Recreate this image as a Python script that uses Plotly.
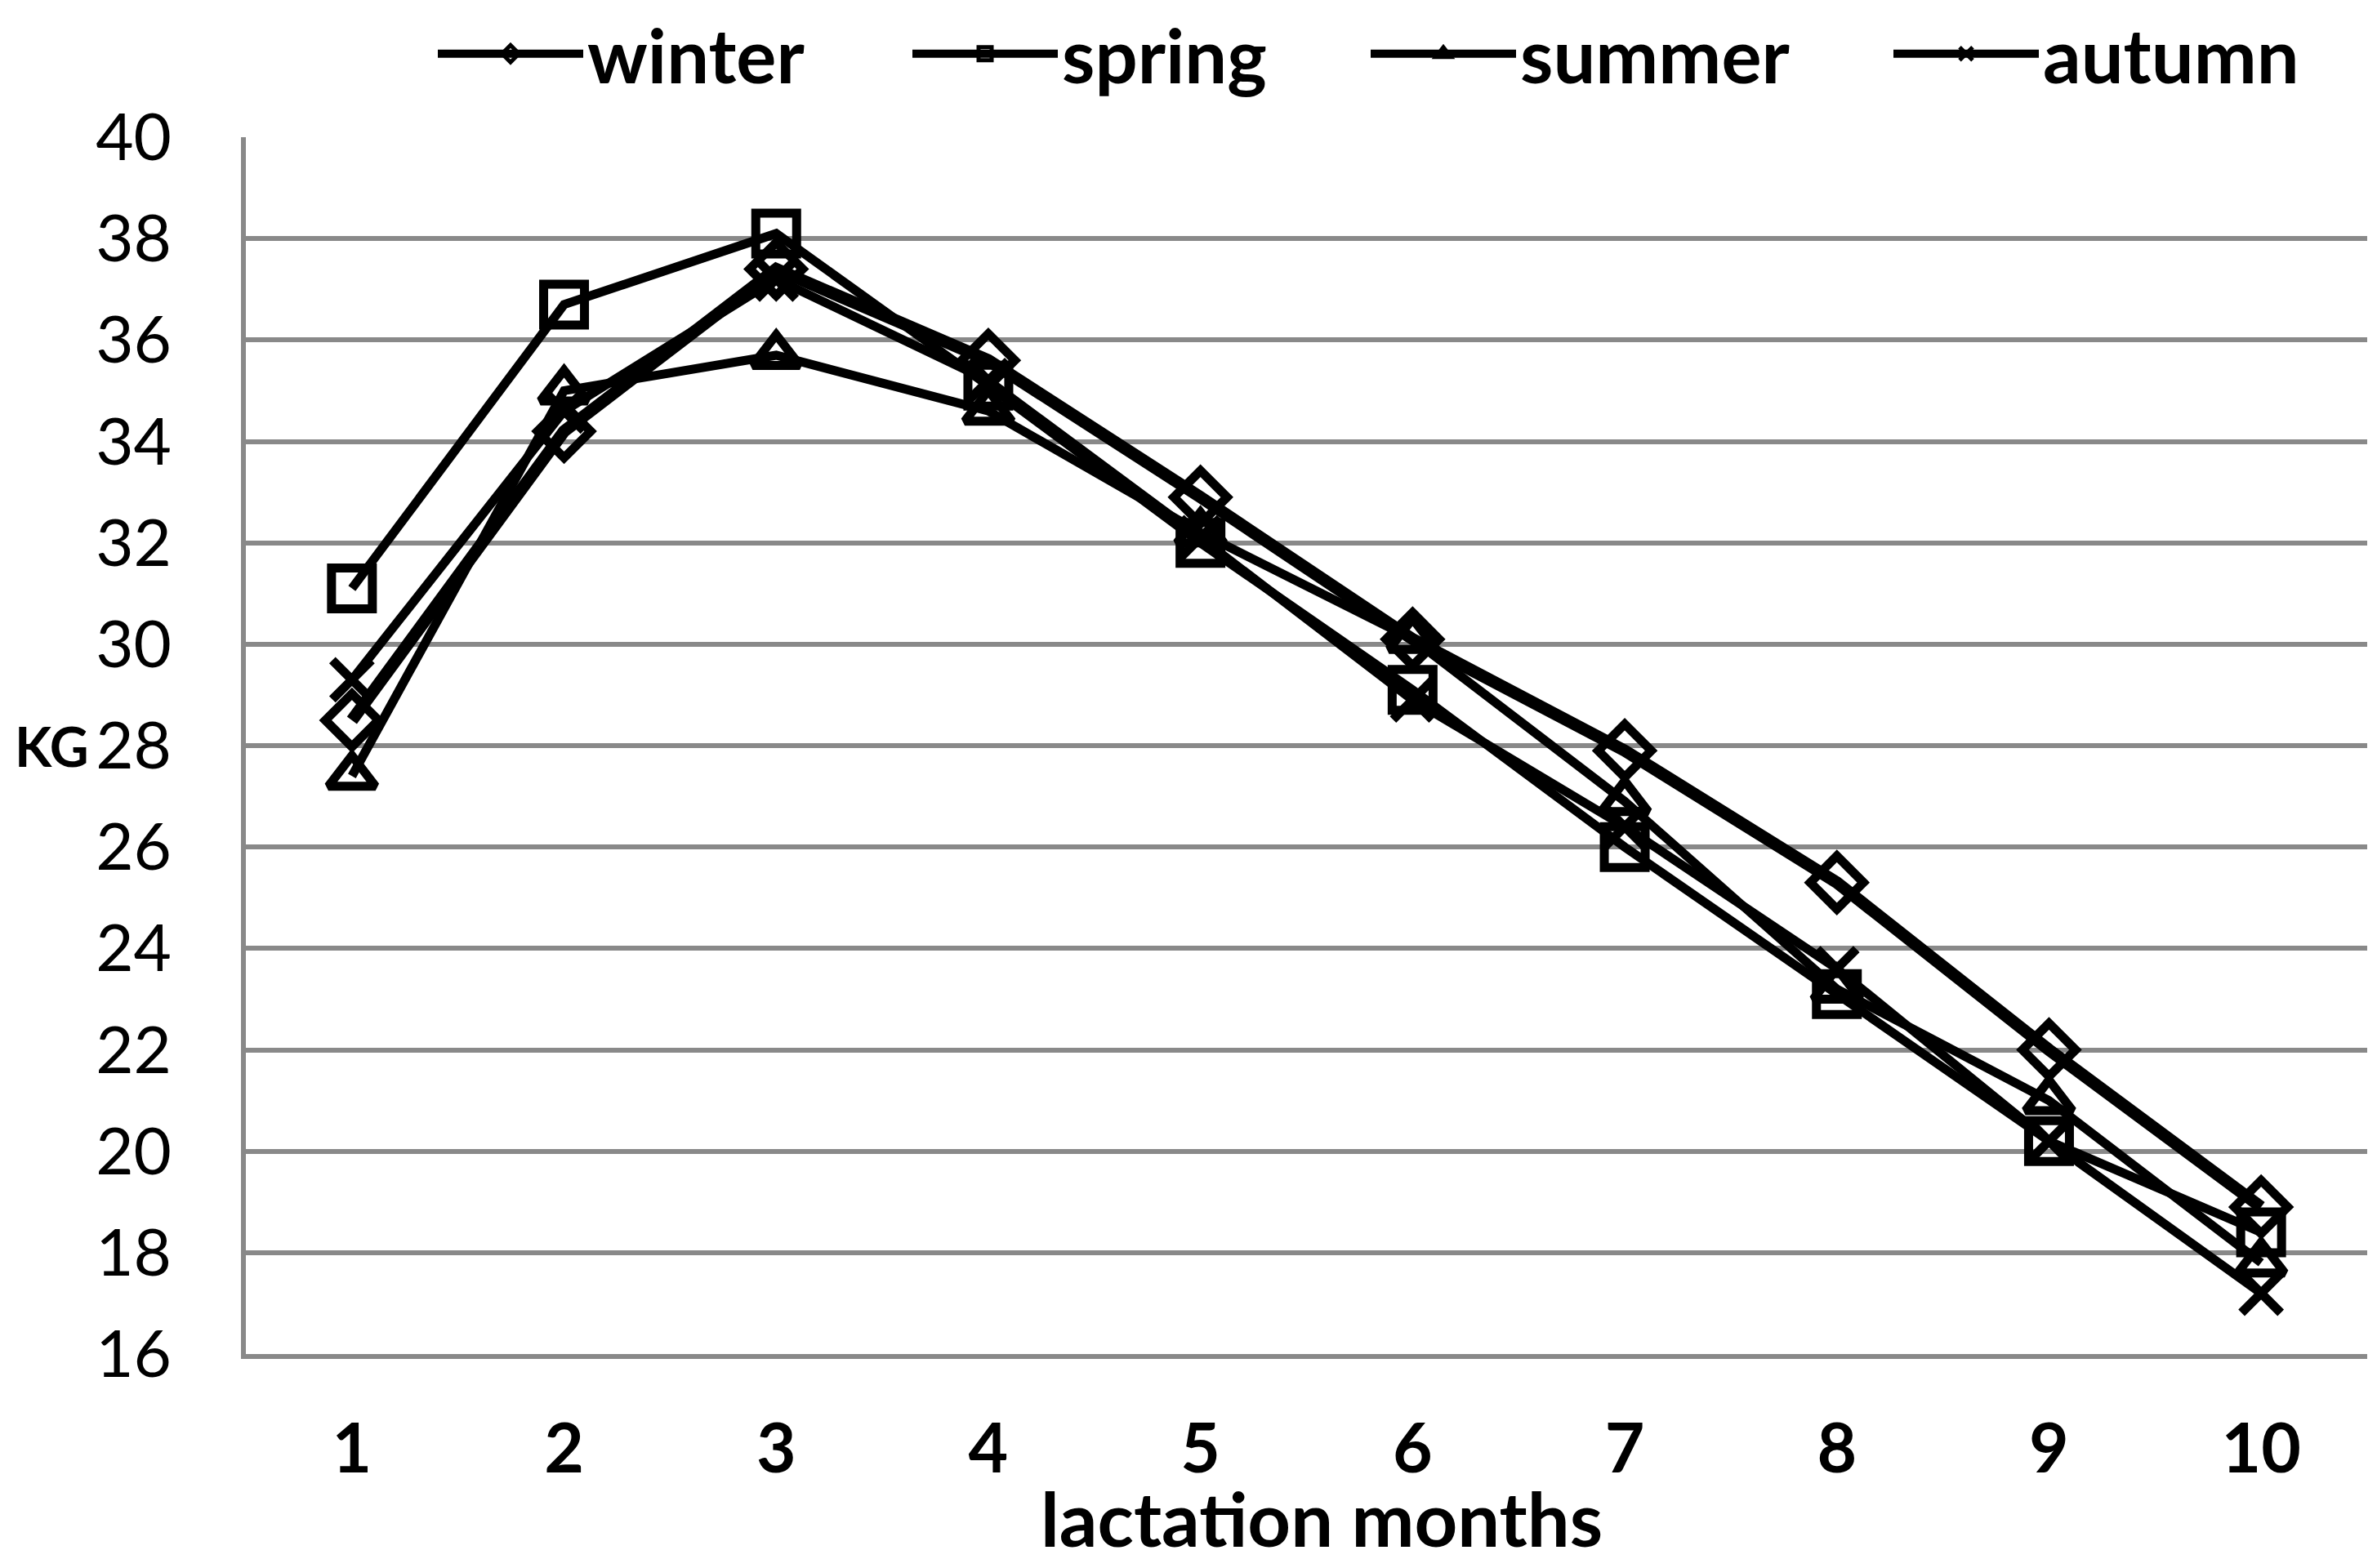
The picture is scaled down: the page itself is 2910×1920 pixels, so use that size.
import plotly.graph_objects as go

months = ["1", "2", "3", "4", "5", "6", "7", "8", "9", "10"]
winter = [28.5, 34.2, 37.4, 35.6, 32.9, 30.1, 27.9, 25.3, 22.0, 18.9]
spring = [31.1, 36.7, 38.1, 35.1, 32.0, 29.1, 26.0, 23.1, 20.2, 18.4]
summer = [27.4, 35.0, 35.7, 34.6, 32.2, 30.1, 26.9, 23.2, 21.0, 17.8]
autumn = [29.3, 34.6, 37.2, 35.2, 32.1, 28.9, 26.4, 23.6, 20.2, 17.2]
y_ticks = list(range(16, 41, 2))

FONT = "Lato, Carlito, Calibri, sans-serif"

series = [
    ("winter", winter, "diamond-open", 15, 50, "legend"),
    ("spring", spring, "square-open", 11, 50, "legend2"),
    ("summer", summer, "triangle-up-open", 11, 50, "legend3"),
    ("autumn", autumn, "x-thin-open", 11, 48, "legend4"),
]
legend_x = {"legend": 523, "legend2": 1104, "legend3": 1665, "legend4": 2305}

fig = go.Figure()
for name, vals, sym, lw, ms, lg in series:
    fig.add_trace(go.Scatter(
        x=months, y=vals, name=name, mode="lines+markers", legend=lg,
        line=dict(color="black", width=lw),
        marker=dict(symbol=sym, size=ms, color="black",
                    line=dict(color="black", width=11)),
    ))

def legend_style(px):
    return dict(
        orientation="h", yref="container", xref="container",
        x=px / 2910, xanchor="left", y=1 - 58 / 1920, yanchor="middle",
        font=dict(size=92, family=FONT, weight="bold", color="black"),
        itemwidth=178, bgcolor="rgba(0,0,0,0)", borderwidth=0,
    )

fig.update_layout(
    width=2910, height=1920,
    margin=dict(l=293, r=20, t=160, b=270, autoexpand=False),
    paper_bgcolor="white", plot_bgcolor="white",
    font=dict(family=FONT, color="black"),
    showlegend=True,
    legend=legend_style(legend_x["legend"]),
    legend2=legend_style(legend_x["legend2"]),
    legend3=legend_style(legend_x["legend3"]),
    legend4=legend_style(legend_x["legend4"]),
    xaxis=dict(
        type="category", categoryorder="array", categoryarray=months,
        range=[-0.5, 9.5],
        showgrid=False, showline=True, linecolor="#898989", linewidth=6,
        ticks="", tickfont=dict(size=84, family=FONT, weight="bold"),
        ticklabelstandoff=38, zeroline=False,
    ),
    yaxis=dict(
        range=[16, 40], tickvals=y_ticks, showgrid=True,
        gridcolor="#898989", gridwidth=6,
        showline=True, linecolor="#898989", linewidth=6,
        ticks="", tickfont=dict(size=80, family=FONT),
        ticklabelstandoff=69, zeroline=False,
    ),
    annotations=[
        dict(text="<b>KG</b>", xref="paper", yref="paper",
             x=(8 - 293) / 2597, xanchor="left", y=0.5, yanchor="middle",
             showarrow=False, font=dict(size=66, family=FONT)),
        dict(text="<b>lactation months</b>", xref="paper", yref="paper",
             x=0.507, xanchor="center", y=-200 / 1490, yanchor="middle",
             showarrow=False, font=dict(size=92, family=FONT)),
    ],
)

fig.write_html("out.html")
